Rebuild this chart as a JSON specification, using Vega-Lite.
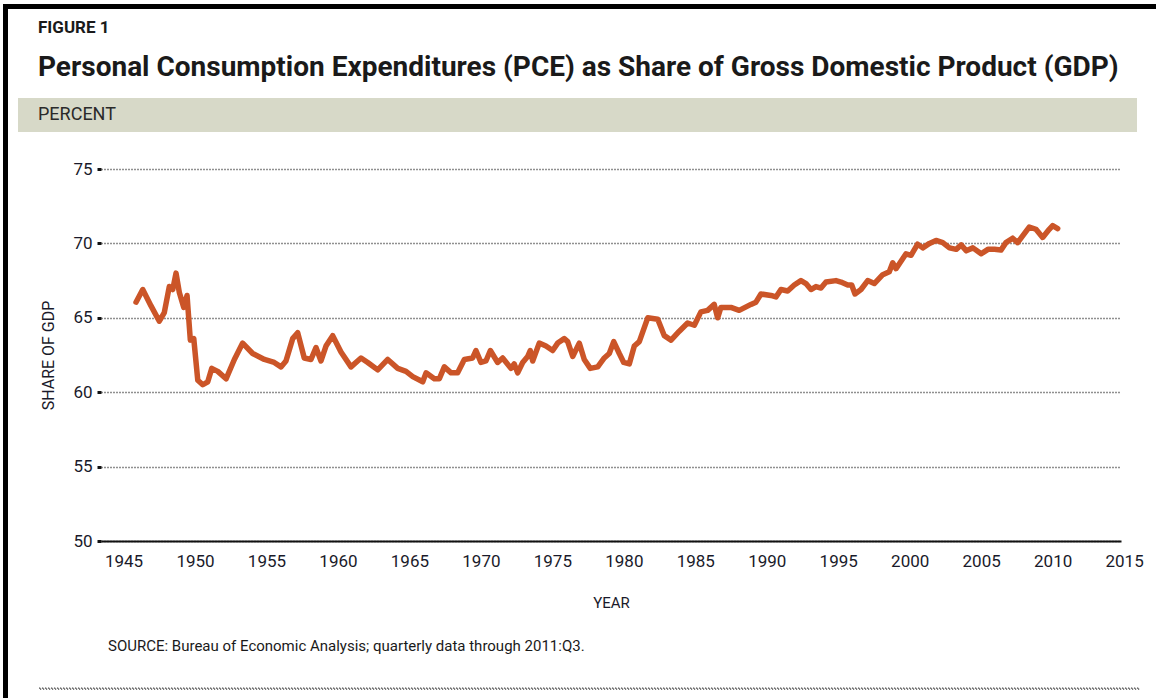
{
  "$schema": "https://vega.github.io/schema/vega-lite/v6.json",
  "padding": {"left": 3, "top": 4, "right": 0, "bottom": 0},
  "background": "white",
  "config": {
    "view": {"stroke": null},
    "font": "Roboto, Liberation Sans, sans-serif",
    "axis": {"labelColor": "#1a1a2a", "titleColor": "#1a1a2a", "labelFont": "Roboto, Liberation Sans, sans-serif", "titleFont": "Roboto, Liberation Sans, sans-serif", "titleFontWeight": "normal"},
    "title": {"color": "#1a1a1a", "subtitleColor": "#1a1a1a", "font": "Roboto, Liberation Sans, sans-serif", "subtitleFont": "Roboto, Liberation Sans, sans-serif"}
  },
  "spacing": 0,
  "hconcat": [
    {"width": 5, "height": 694, "data": {"values": []}, "mark": "point", "view": {"fill": "#000000", "stroke": null}},
    {
      "spacing": 10,
      "vconcat": [
        {"width": 1148, "height": 5, "data": {"values": []}, "mark": "point", "view": {"fill": "#000000", "stroke": null}},
        {
          "spacing": 9,
          "hconcat": [
            {"width": 1, "height": 1, "data": {"values": []}, "mark": "point"},
            {
              "title": {
                "text": "FIGURE 1",
                "subtitle": "Personal Consumption Expenditures (PCE) as Share of Gross Domestic Product (GDP)",
                "anchor": "start",
                "frame": "bounds",
                "dx": 20,
                "fontSize": 17,
                "fontWeight": "bold",
                "subtitleFontSize": 28,
                "subtitleFontWeight": "bold",
                "subtitlePadding": 17,
                "offset": 15
              },
              "spacing": 28,
              "vconcat": [
                {
                  "width": 1119, "height": 34,
                  "data": {"values": [{"label": "PERCENT"}]},
                  "mark": {"type": "text", "align": "left", "baseline": "middle", "dx": 20, "fontSize": 18, "color": "#2a2a2a", "font": "Roboto, Liberation Sans, sans-serif"},
                  "encoding": {
                    "text": {"field": "label", "type": "nominal"},
                    "x": {"datum": 0, "type": "quantitative", "scale": {"domain": [0, 1], "nice": false, "zero": false}, "axis": null}
                  },
                  "view": {"fill": "#d7d9c8", "stroke": null}
                },
                {
                  "spacing": 21,
                  "hconcat": [
                    {"width": 1, "height": 1, "data": {"values": []}, "mark": "point"},
                    {
                      "width": 1020,
                      "height": 372,
                      "data": {"values": [
                        {"year": 1947.00, "share": 66.05},
                        {"year": 1947.47, "share": 66.9},
                        {"year": 1948.05, "share": 65.8},
                        {"year": 1948.63, "share": 64.77},
                        {"year": 1948.98, "share": 65.35},
                        {"year": 1949.33, "share": 67.1},
                        {"year": 1949.57, "share": 66.9},
                        {"year": 1949.80, "share": 68.0},
                        {"year": 1950.03, "share": 66.7},
                        {"year": 1950.34, "share": 65.7},
                        {"year": 1950.57, "share": 66.5},
                        {"year": 1950.80, "share": 63.5},
                        {"year": 1951.04, "share": 63.6},
                        {"year": 1951.32, "share": 60.8},
                        {"year": 1951.67, "share": 60.5},
                        {"year": 1952.02, "share": 60.7},
                        {"year": 1952.30, "share": 61.6},
                        {"year": 1952.72, "share": 61.4},
                        {"year": 1953.30, "share": 60.9},
                        {"year": 1953.88, "share": 62.2},
                        {"year": 1954.46, "share": 63.3},
                        {"year": 1955.16, "share": 62.6},
                        {"year": 1955.98, "share": 62.2},
                        {"year": 1956.67, "share": 62.0},
                        {"year": 1957.14, "share": 61.7},
                        {"year": 1957.49, "share": 62.1},
                        {"year": 1957.96, "share": 63.6},
                        {"year": 1958.31, "share": 64.0},
                        {"year": 1958.77, "share": 62.3},
                        {"year": 1959.24, "share": 62.2},
                        {"year": 1959.59, "share": 63.0},
                        {"year": 1959.94, "share": 62.1},
                        {"year": 1960.29, "share": 63.1},
                        {"year": 1960.76, "share": 63.8},
                        {"year": 1961.34, "share": 62.7},
                        {"year": 1962.04, "share": 61.7},
                        {"year": 1962.74, "share": 62.3},
                        {"year": 1963.21, "share": 62.0},
                        {"year": 1963.91, "share": 61.5},
                        {"year": 1964.61, "share": 62.2},
                        {"year": 1965.31, "share": 61.6},
                        {"year": 1965.89, "share": 61.4},
                        {"year": 1966.36, "share": 61.05},
                        {"year": 1967.06, "share": 60.7},
                        {"year": 1967.29, "share": 61.3},
                        {"year": 1967.87, "share": 60.9},
                        {"year": 1968.22, "share": 60.9},
                        {"year": 1968.57, "share": 61.7},
                        {"year": 1969.04, "share": 61.3},
                        {"year": 1969.50, "share": 61.3},
                        {"year": 1969.97, "share": 62.2},
                        {"year": 1970.55, "share": 62.3},
                        {"year": 1970.78, "share": 62.8},
                        {"year": 1971.13, "share": 62.0},
                        {"year": 1971.48, "share": 62.1},
                        {"year": 1971.79, "share": 62.8},
                        {"year": 1972.30, "share": 62.0},
                        {"year": 1972.65, "share": 62.3},
                        {"year": 1973.23, "share": 61.6},
                        {"year": 1973.46, "share": 61.9},
                        {"year": 1973.70, "share": 61.3},
                        {"year": 1974.05, "share": 62.0},
                        {"year": 1974.40, "share": 62.4},
                        {"year": 1974.58, "share": 62.8},
                        {"year": 1974.75, "share": 62.1},
                        {"year": 1975.21, "share": 63.3},
                        {"year": 1975.68, "share": 63.1},
                        {"year": 1976.15, "share": 62.8},
                        {"year": 1976.50, "share": 63.3},
                        {"year": 1976.96, "share": 63.6},
                        {"year": 1977.20, "share": 63.4},
                        {"year": 1977.55, "share": 62.4},
                        {"year": 1978.01, "share": 63.3},
                        {"year": 1978.36, "share": 62.2},
                        {"year": 1978.78, "share": 61.6},
                        {"year": 1979.30, "share": 61.7},
                        {"year": 1979.76, "share": 62.3},
                        {"year": 1980.11, "share": 62.6},
                        {"year": 1980.42, "share": 63.4},
                        {"year": 1980.81, "share": 62.6},
                        {"year": 1981.12, "share": 62.0},
                        {"year": 1981.51, "share": 61.9},
                        {"year": 1981.86, "share": 63.1},
                        {"year": 1982.21, "share": 63.4},
                        {"year": 1982.80, "share": 65.0},
                        {"year": 1983.50, "share": 64.9},
                        {"year": 1983.96, "share": 63.8},
                        {"year": 1984.43, "share": 63.5},
                        {"year": 1985.01, "share": 64.1},
                        {"year": 1985.59, "share": 64.65},
                        {"year": 1986.06, "share": 64.5},
                        {"year": 1986.52, "share": 65.4},
                        {"year": 1986.99, "share": 65.5},
                        {"year": 1987.45, "share": 65.9},
                        {"year": 1987.69, "share": 65.0},
                        {"year": 1987.92, "share": 65.7},
                        {"year": 1988.62, "share": 65.7},
                        {"year": 1989.20, "share": 65.5},
                        {"year": 1990.02, "share": 65.9},
                        {"year": 1990.37, "share": 66.05},
                        {"year": 1990.72, "share": 66.6},
                        {"year": 1991.42, "share": 66.5},
                        {"year": 1991.77, "share": 66.4},
                        {"year": 1992.12, "share": 66.9},
                        {"year": 1992.59, "share": 66.8},
                        {"year": 1993.05, "share": 67.2},
                        {"year": 1993.52, "share": 67.5},
                        {"year": 1993.87, "share": 67.3},
                        {"year": 1994.22, "share": 66.9},
                        {"year": 1994.57, "share": 67.1},
                        {"year": 1994.92, "share": 67.0},
                        {"year": 1995.27, "share": 67.4},
                        {"year": 1995.97, "share": 67.5},
                        {"year": 1996.32, "share": 67.4},
                        {"year": 1996.79, "share": 67.2},
                        {"year": 1997.07, "share": 67.2},
                        {"year": 1997.30, "share": 66.6},
                        {"year": 1997.72, "share": 66.9},
                        {"year": 1998.19, "share": 67.5},
                        {"year": 1998.65, "share": 67.3},
                        {"year": 1999.24, "share": 67.9},
                        {"year": 1999.70, "share": 68.1},
                        {"year": 1999.94, "share": 68.7},
                        {"year": 2000.17, "share": 68.3},
                        {"year": 2000.52, "share": 68.8},
                        {"year": 2000.87, "share": 69.3},
                        {"year": 2001.22, "share": 69.2},
                        {"year": 2001.68, "share": 69.95},
                        {"year": 2002.04, "share": 69.7},
                        {"year": 2002.51, "share": 70.0},
                        {"year": 2002.97, "share": 70.2},
                        {"year": 2003.44, "share": 70.05},
                        {"year": 2003.91, "share": 69.7},
                        {"year": 2004.38, "share": 69.6},
                        {"year": 2004.73, "share": 69.9},
                        {"year": 2005.08, "share": 69.5},
                        {"year": 2005.55, "share": 69.7},
                        {"year": 2006.13, "share": 69.3},
                        {"year": 2006.60, "share": 69.6},
                        {"year": 2007.06, "share": 69.6},
                        {"year": 2007.51, "share": 69.55},
                        {"year": 2007.86, "share": 70.05},
                        {"year": 2008.33, "share": 70.35},
                        {"year": 2008.68, "share": 70.05},
                        {"year": 2009.03, "share": 70.5},
                        {"year": 2009.49, "share": 71.1},
                        {"year": 2009.96, "share": 70.95},
                        {"year": 2010.43, "share": 70.4},
                        {"year": 2010.89, "share": 70.95},
                        {"year": 2011.13, "share": 71.2},
                        {"year": 2011.48, "share": 71.0}
                      ]},
                      "mark": {"type": "line", "color": "#cb5528", "strokeWidth": 5.5, "strokeJoin": "round", "strokeCap": "round"},
                      "encoding": {
                        "x": {
                          "field": "year", "type": "quantitative",
                          "scale": {"domain": [1944.55, 2015.91], "nice": false, "zero": false},
                          "axis": {
                            "title": "YEAR",
                            "values": [1945, 1950, 1955, 1960, 1965, 1970, 1975, 1980, 1985, 1990, 1995, 2000, 2005, 2010, 2015],
                            "format": "d",
                            "labelAlign": "left",
                            "labelOffset": -3,
                            "labelFlush": false,
                            "labelOverlap": false,
                            "ticks": false,
                            "grid": false,
                            "domainColor": "#111111",
                            "domainWidth": 2,
                            "labelFontSize": 17,
                            "labelPadding": 12,
                            "titleFontSize": 15,
                            "titlePadding": 26
                          }
                        },
                        "y": {
                          "field": "share", "type": "quantitative",
                          "scale": {"domain": [50, 75], "nice": false, "zero": false},
                          "axis": {
                            "title": "SHARE OF GDP",
                            "values": [50, 55, 60, 65, 70, 75],
                            "domain": false,
                            "grid": true,
                            "gridDash": [1, 2],
                            "gridColor": "#222222",
                            "gridWidth": 1.3,
                            "tickSize": 4,
                            "tickWidth": 3,
                            "tickColor": "#111111",
                            "labelFontSize": 17,
                            "labelPadding": 5,
                            "titleFontSize": 16,
                            "titlePadding": 16
                          }
                        }
                      }
                    }
                  ]
                },
                {
                  "spacing": 19,
                  "hconcat": [
                    {"width": 1, "height": 1, "data": {"values": []}, "mark": "point"},
                    {
                      "width": 1100, "height": 1,
                      "data": {"values": []}, "mark": "point",
                      "view": {"stroke": "#222222", "strokeDash": [1, 2], "strokeWidth": 1.3},
                      "title": {"text": "SOURCE: Bureau of Economic Analysis; quarterly data through 2011:Q3.", "orient": "top", "anchor": "start", "dx": 69, "offset": 34, "fontSize": 15, "fontWeight": "normal"}
                    }
                  ]
                }
              ]
            }
          ]
        }
      ]
    }
  ]
}
